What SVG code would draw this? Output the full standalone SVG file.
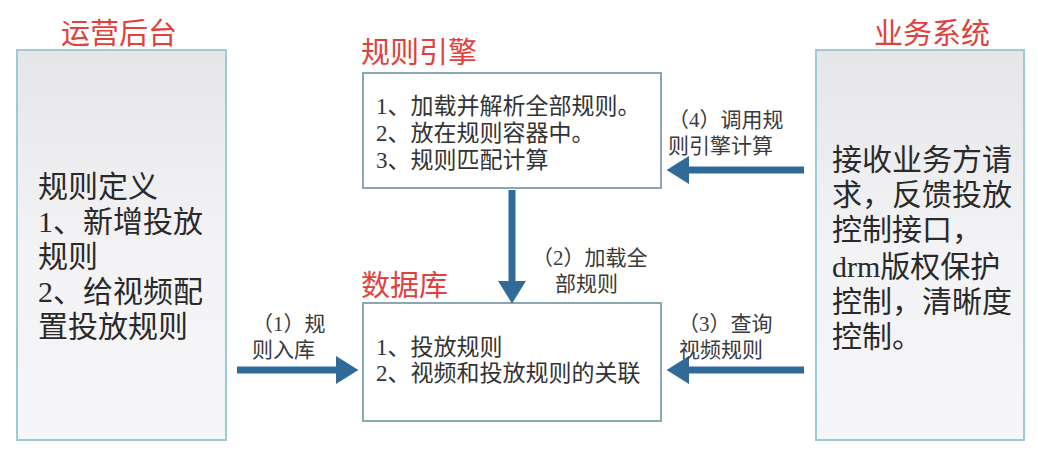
<svg xmlns="http://www.w3.org/2000/svg" width="1038" height="452" viewBox="0 0 1038 452">
<defs>
<linearGradient id="g" x1="0" y1="0" x2="0" y2="1">
<stop offset="0" stop-color="#e6e6e9"/>
<stop offset="0.5" stop-color="#f3f3f5"/>
<stop offset="1" stop-color="#f6f6f8"/>
</linearGradient>
<marker id="ah" markerWidth="4" markerHeight="4" refX="0" refY="2" orient="auto" markerUnits="strokeWidth">
<path d="M0,0 L3.2,2 L0,4 Z" fill="#2f6a98"/>
</marker>
<style>
.title{font-family:"Noto Sans CJK SC",sans-serif;fill:#e2403a;font-size:29px}
.big{font-family:"Liberation Serif","Noto Sans CJK SC",serif;fill:#2a2a2a;font-size:30px}
.mid{font-family:"Liberation Serif","Noto Sans CJK SC",serif;fill:#333;font-size:23px}
.lbl{font-family:"Liberation Serif","Noto Sans CJK SC",serif;fill:#3a3a3a;font-size:21px}
.side{fill:url(#g);stroke:#9ccad6;stroke-width:2}
.box{fill:#fff;stroke:#8aa7b4;stroke-width:2}
.arr{stroke:#2f6a98;stroke-width:7;fill:none;marker-end:url(#ah)}
</style>
</defs>
<rect width="1038" height="452" fill="#fff"/>
<g id="ops">
<rect class="side" x="17" y="50" width="209" height="390"/>
<text class="title" x="61" y="44">运营后台</text>
<text class="big"><tspan x="38" y="197">规则定义</tspan><tspan x="38" y="232">1、新增投放</tspan><tspan x="38" y="267">规则</tspan><tspan x="38" y="302">2、给视频配</tspan><tspan x="38" y="337">置投放规则</tspan></text>
</g>
<g id="engine">
<rect class="box" x="363" y="73" width="298" height="115"/>
<text class="title" x="361" y="63">规则引擎</text>
<text class="mid"><tspan x="376" y="114">1、加载并解析全部规则。</tspan><tspan x="376" y="141">2、放在规则容器中。</tspan><tspan x="376" y="168">3、规则匹配计算</tspan></text>
</g>
<g id="db">
<rect class="box" x="363" y="303" width="298" height="118"/>
<text class="title" x="361" y="296">数据库</text>
<text class="mid"><tspan x="376" y="355">1、投放规则</tspan><tspan x="376" y="381">2、视频和投放规则的关联</tspan></text>
</g>
<g id="biz">
<rect class="side" x="816" y="50" width="208" height="390"/>
<text class="title" x="874" y="44">业务系统</text>
<text class="big"><tspan x="832" y="170">接收业务方请</tspan><tspan x="832" y="205">求，反馈投放</tspan><tspan x="832" y="240">控制接口，</tspan><tspan x="832" y="277">drm版权保护</tspan><tspan x="832" y="312">控制，清晰度</tspan><tspan x="832" y="347">控制。</tspan></text>
</g>
<g id="connectors">
<line class="arr" x1="237" y1="370" x2="336" y2="370"/>
<line class="arr" x1="512" y1="190" x2="512" y2="281"/>
<line class="arr" x1="804" y1="170" x2="689" y2="170"/>
<line class="arr" x1="804" y1="370" x2="689" y2="370"/>
<text class="lbl"><tspan x="252" y="331">（1）规</tspan><tspan x="252" y="357">则入库</tspan></text>
<text class="lbl"><tspan x="532" y="265">（2）加载全</tspan><tspan x="555" y="291">部规则</tspan></text>
<text class="lbl"><tspan x="668" y="127">（4）调用规</tspan><tspan x="668" y="153">则引擎计算</tspan></text>
<text class="lbl"><tspan x="678" y="331">（3）查询</tspan><tspan x="679" y="357">视频规则</tspan></text>
</g>
</svg>
